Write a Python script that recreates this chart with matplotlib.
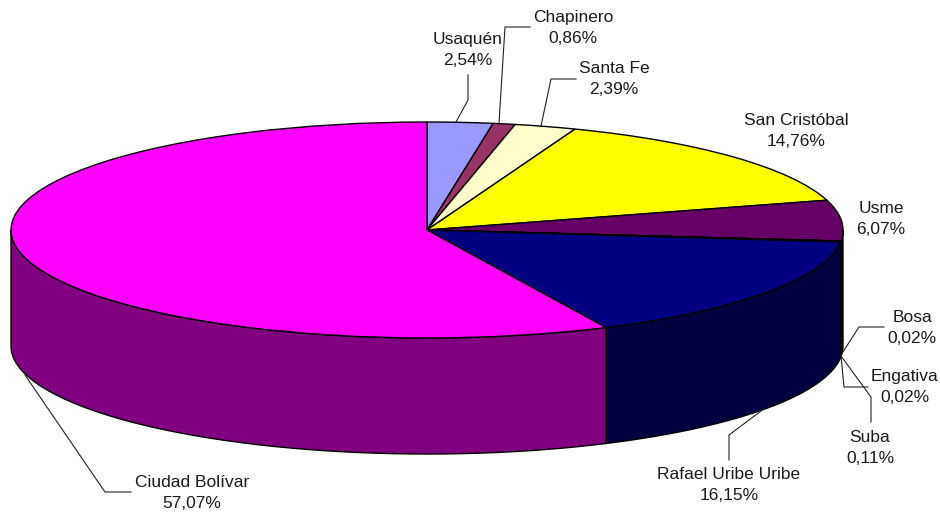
#!/usr/bin/env python
"""Localidades de Bogota as an Excel-style 3D pie."""

import matplotlib

matplotlib.use("Agg")
import matplotlib.pyplot as plt
import numpy as np
from matplotlib.patches import Polygon

plt.rcParams["font.family"] = ["Liberation Sans", "DejaVu Sans"]

WIDTH, HEIGHT = 940, 512
CX, CY, RX, RY, DEPTH = 427, 230, 416, 108, 116

names = ["Usaquén", "Chapinero", "Santa Fe", "San Cristóbal", "Usme", "Bosa",
         "Engativa", "Suba", "Rafael Uribe Uribe", "Ciudad Bolívar"]
values = [2.54, 0.86, 2.39, 14.76, 6.07, 0.02, 0.02, 0.11, 16.15, 57.07]
colors = ["#9999ff", "#993366", "#ffffcc", "#ffff00", "#660066", "#ffffff",
          "#ccffff", "#660066", "#000080", "#ff00ff"]

label_x = [468, 573, 614, 796, 881, 912, 905, 870, 729, 192]
label_y = [50, 28, 79, 131, 219, 328, 387, 448, 485, 493]

leaders = [
    [(468, 75), (468, 100), (456, 122)],
    [(530, 27), (505, 27), (499, 123)],
    [(576, 79), (551, 79), (541, 126)],
    None,
    None,
    [(884, 327), (859, 327), (841, 355)],
    [(868, 387), (844, 387), (841, 356)],
    [(871, 422), (871, 397), (841, 356)],
    [(729, 460), (729, 435), (765, 408)],
    [(131, 492), (105, 492), (25, 375)],
]


def shade(color, factor=0.5):
    rgb = np.array(matplotlib.colors.to_rgb(color))
    return tuple(rgb * factor)


def main():
    fig = plt.figure(figsize=(WIDTH / 100, HEIGHT / 100), dpi=100, facecolor="white")

    # overlay in pixel coords for the side wall, leaders and labels
    canvas = fig.add_axes([0, 0, 1, 1])
    canvas.set_xlim(0, WIDTH)
    canvas.set_ylim(HEIGHT, 0)
    canvas.axis("off")

    # side wall, only the front half of the ellipse shows
    edges = np.cumsum([0] + values) / sum(values) * 2 * np.pi
    for start, stop, color in zip(edges[:-1], edges[1:], colors):
        lo, hi = max(start, np.pi / 2), min(stop, 3 * np.pi / 2)
        if hi <= lo:
            continue
        theta = np.linspace(lo, hi, 200)
        x = CX + RX * np.sin(theta)
        y = CY - RY * np.cos(theta)
        pts = np.r_[np.c_[x, y], np.c_[x, y + DEPTH][::-1]]
        canvas.add_patch(Polygon(pts, closed=True, facecolor=shade(color),
                                 edgecolor="black", linewidth=1.0, zorder=1))

    # top face: a real pie squeezed into the ellipse's box
    top = fig.add_axes([(CX - RX) / WIDTH, 1 - (CY + RY) / HEIGHT,
                        2 * RX / WIDTH, 2 * RY / HEIGHT], zorder=2)
    top.pie(values, colors=colors, startangle=90, counterclock=False, radius=1,
            wedgeprops={"edgecolor": "black", "linewidth": 1.0})
    top.set_aspect("auto")
    top.set_xlim(-1, 1)
    top.set_ylim(-1, 1)
    top.patch.set_visible(False)
    for wedge in top.patches:
        wedge.set_clip_on(False)

    for path in leaders:
        if path is None:
            continue
        xs, ys = zip(*path)
        canvas.plot(xs, ys, color="#222222", linewidth=0.8, zorder=3)

    for name, value, x, y in zip(names, values, label_x, label_y):
        text = f"{name}\n{value:.2f}%".replace(".", ",")
        canvas.text(x, y, text, ha="center", va="center", fontsize=12.5,
                    color="#1a1a1a", linespacing=1.42, zorder=4)

    fig.savefig("out.png", dpi=100, facecolor="white")
    plt.close(fig)


if __name__ == "__main__":
    main()
